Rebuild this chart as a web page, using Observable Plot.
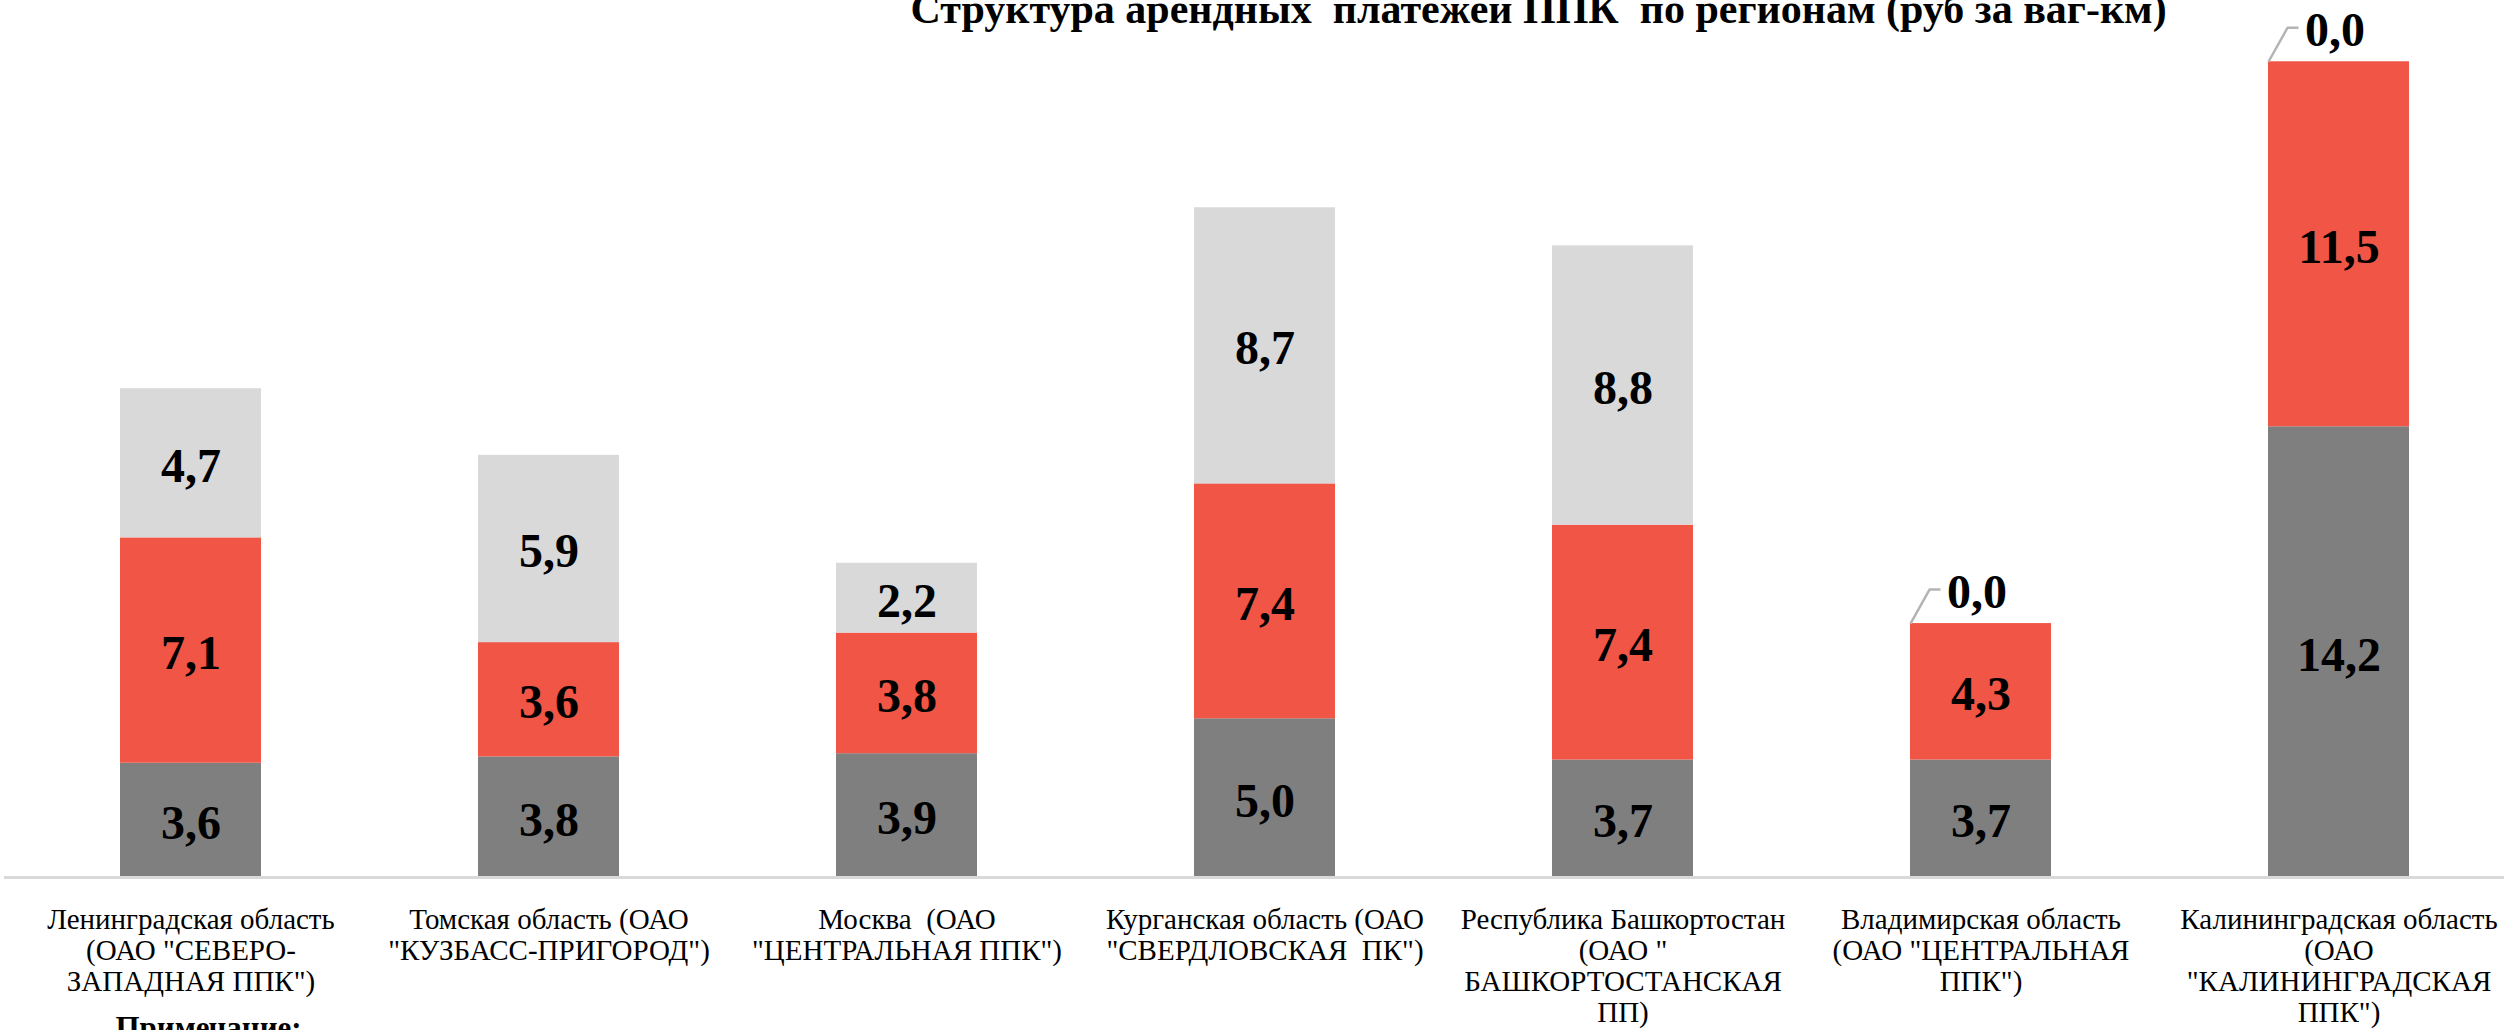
<!DOCTYPE html>
<html>
<head>
<meta charset="utf-8">
<script src="https://cdn.jsdelivr.net/npm/d3@7"></script>
<script src="https://cdn.jsdelivr.net/npm/@observablehq/plot@0.6"></script>
<style>
  html, body { margin: 0; padding: 0; background: #ffffff; }
  #chart svg { display: block; }
  #chart svg text { font-family: 'Liberation Serif', 'Times New Roman', serif !important; }
</style>
</head>
<body>
<div id="chart"></div>
<script>
// ---- data ----
const title = "Структура арендных \u00a0платежей ППК \u00a0по регионам (руб за ваг-км)";
const note = "Примечание:";
const regions = [
  "Ленинградская область\n(ОАО \"СЕВЕРО-\nЗАПАДНАЯ ППК\")",
  "Томская область (ОАО\n\"КУЗБАСС-ПРИГОРОД\")",
  "Москва \u00a0(ОАО\n\"ЦЕНТРАЛЬНАЯ ППК\")",
  "Курганская область (ОАО\n\"СВЕРДЛОВСКАЯ \u00a0ПК\")",
  "Республика Башкортостан\n(ОАО \"\nБАШКОРТОСТАНСКАЯ\nПП)",
  "Владимирская область\n(ОАО \"ЦЕНТРАЛЬНАЯ\nППК\")",
  "Калининградская область\n(ОАО\n\"КАЛИНИНГРАДСКАЯ\nППК\")"
];
const seriesNames = ["s1", "s2", "s3"];
const seriesColors = ["#7f7f7f", "#f05545", "#d9d9d9"];
const values1 = [3.6, 3.8, 3.9, 5.0, 3.7, 3.7, 14.2];
const values2 = [7.1, 3.6, 3.8, 7.4, 7.4, 4.3, 11.5];
const values3 = [4.7, 5.9, 2.2, 8.7, 8.8, 0.0, 0.0];
const yMax = 27;

// ---- table built from arrays ----
const allValues = [values1, values2, values3];
const rows = [];
seriesNames.forEach((s, si) => {
  regions.forEach((r, ri) => rows.push({region: r, series: s, value: allValues[si][ri]}));
});
const totals = regions.map((r, ri) => allValues.reduce((a, arr) => a + arr[ri], 0));
const zeroRows = rows
  .filter(d => d.value === 0)
  .map(d => ({...d, total: totals[regions.indexOf(d.region)]}));
const fmt = v => v.toFixed(1).replace(".", ",");

// elbow leader drawn relative to the anchor point
const leaderCurve = (context) => {
  let pts = [];
  return {
    lineStart() { pts = []; },
    point(x, y) { pts.push([+x, +y]); },
    lineEnd() {
      const [x, y] = pts[0];
      context.moveTo(x, y);
      context.lineTo(x + 19, y - 34);
      context.lineTo(x + 30, y - 34);
    },
    areaStart() {}, areaEnd() {}
  };
};

const serif = "Liberation Serif";

const chart = Plot.plot({
  width: 2504,
  height: 1030,
  marginLeft: 4,
  marginRight: 0,
  marginTop: 20,
  marginBottom: 153,
  style: {background: "#ffffff", color: "#000"},
  x: {domain: regions, range: [9, 2520], paddingInner: 0.607, paddingOuter: 0.3035, align: 0.5},
  y: {domain: [0, yMax], axis: null},
  color: {domain: seriesNames, range: seriesColors},
  marks: [
    Plot.barY(rows, Plot.stackY({x: "region", y: "value", fill: "series", order: null})),
    Plot.ruleY([0], {stroke: "#d9d9d9", strokeWidth: 3}),
    Plot.text(rows.filter(d => d.value > 0), Plot.stackY({
      x: "region", y: "value", z: "series", order: null,
      text: d => fmt(d.value),
      fontSize: 48, fontWeight: "bold", fontFamily: serif, fill: "#000",
      lineAnchor: "middle", dy: 3
    })),
    Plot.link(zeroRows, {
      x1: "region", x2: "region", y1: "total", y2: "total",
      curve: leaderCurve, stroke: "#b4b4b4", strokeWidth: 2.5, dx: -70.5
    }),
    Plot.text(zeroRows, {
      x: "region", y: "total", text: d => fmt(d.value),
      fontSize: 48, fontWeight: "bold", fontFamily: serif, fill: "#000",
      textAnchor: "start", lineAnchor: "bottom", dx: -34, dy: -16
    }),
    Plot.axisX({
      tickSize: 0, tickPadding: 30, fontSize: 29, fontFamily: serif,
      lineHeight: 1.06, fill: "#000", label: null
    }),
    Plot.text([title], {
      frameAnchor: "top-left", text: d => d, dx: 906, dy: 2,
      textAnchor: "start", lineAnchor: "bottom",
      fontSize: 42, fontWeight: "bold", fontFamily: serif, fill: "#000"
    }),
    Plot.text([note], {
      frameAnchor: "bottom-left", text: d => d, dx: 111, dy: 138,
      textAnchor: "start", lineAnchor: "top",
      fontSize: 31, fontWeight: "bold", fontFamily: serif, fill: "#000"
    })
  ]
});
document.getElementById("chart").append(chart);
</script>
</body>
</html>
